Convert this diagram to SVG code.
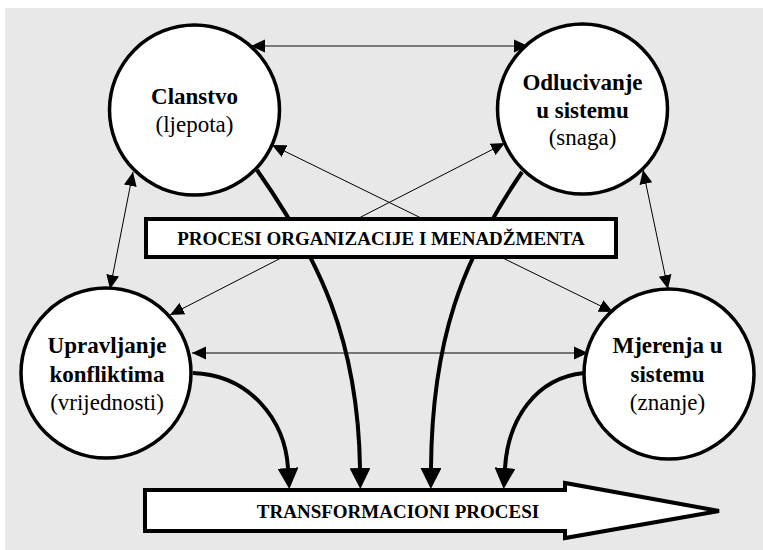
<svg xmlns="http://www.w3.org/2000/svg" width="763" height="550" viewBox="0 0 763 550">
<defs>
<style>
.node circle{fill:#fff;stroke:#000;stroke-width:3.5}
.t{font-family:"Liberation Serif","Times New Roman",serif;font-size:23px;text-anchor:middle;fill:#000}
.b{font-weight:bold}
.thin{stroke:#000;stroke-width:1;fill:none;marker-start:url(#ah);marker-end:url(#ah)}
.thick{stroke:#000;stroke-width:4;fill:none;marker-end:url(#bh)}
.box{fill:#fff;stroke:#000;stroke-width:4}
.lbl{font-family:"Liberation Serif","Times New Roman",serif;font-size:19px;font-weight:bold;text-anchor:middle;fill:#000}
</style>
<marker id="ah" markerUnits="userSpaceOnUse" markerWidth="14" markerHeight="14" viewBox="0 0 13 12" refX="13" refY="6" orient="auto-start-reverse">
<path d="M0,0 L13,6 L0,12 z" fill="#000"/>
</marker>
<marker id="bh" markerUnits="userSpaceOnUse" markerWidth="21" markerHeight="21" viewBox="0 0 20 20" refX="0" refY="10" orient="auto">
<path d="M0,0 L20,10 L0,20 z" fill="#000"/>
</marker>
</defs>
<rect x="5" y="8" width="758" height="542" fill="#e8e8e8"/>
<g id="connectors">
<line x1="251" y1="46" x2="528" y2="46" class="thin" style="stroke:#555;stroke-width:1.4"/>
<line x1="133" y1="172" x2="110" y2="289" class="thin"/>
<line x1="643" y1="170" x2="668" y2="289" class="thin"/>
<line x1="192" y1="353" x2="588" y2="353" class="thin"/>
<line x1="272" y1="145" x2="613" y2="312" class="thin"/>
<line x1="505" y1="143" x2="170" y2="315" class="thin"/>
<path d="M257,170 C320,260 358,340 360,468" class="thick"/>
<path d="M522,172 C462,260 432,340 431,468" class="thick"/>
<path d="M193,373 C250,375 285,420 288,468" class="thick"/>
<path d="M584,373 C535,378 508,420 505,468" class="thick"/>
</g>
<g id="procesi">
<rect x="146" y="219" width="470" height="38" class="box"/>
<text x="381" y="245" class="lbl">PROCESI ORGANIZACIJE I MENADŽMENTA</text>
</g>
<g id="transformacioni">
<path d="M145,490 L565,490 L565,483 L719,511 L565,538 L565,531 L145,531 Z" fill="#fff" stroke="#000" stroke-width="4" stroke-linejoin="miter"/>
<text x="398" y="518" class="lbl">TRANSFORMACIONI PROCESI</text>
</g>
<g id="clanstvo" class="node">
<circle cx="194.5" cy="110" r="85"/>
<text x="194.5" y="104" class="t b">Clanstvo</text>
<text x="194.5" y="132" class="t">(ljepota)</text>
</g>
<g id="odlucivanje" class="node">
<circle cx="582.5" cy="109" r="85"/>
<text x="582.5" y="90" class="t b">Odlucivanje</text>
<text x="582.5" y="118" class="t b">u sistemu</text>
<text x="582.5" y="145" class="t">(snaga)</text>
</g>
<g id="upravljanje" class="node">
<circle cx="106" cy="373" r="85"/>
<text x="107" y="353" class="t b">Upravljanje</text>
<text x="107" y="382" class="t b">konfliktima</text>
<text x="107" y="410" class="t">(vrijednosti)</text>
</g>
<g id="mjerenja" class="node">
<circle cx="669" cy="374" r="85"/>
<text x="667.5" y="353" class="t b">Mjerenja u</text>
<text x="667.5" y="382" class="t b">sistemu</text>
<text x="667.5" y="410" class="t">(znanje)</text>
</g>
</svg>
